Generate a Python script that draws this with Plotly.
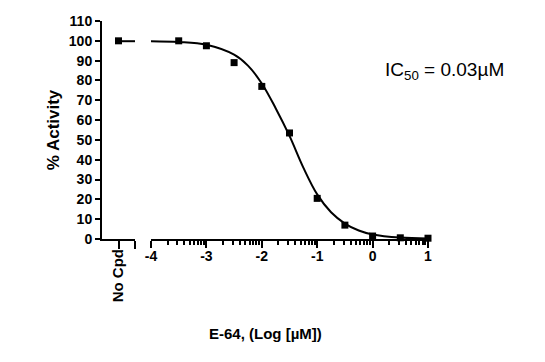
import plotly.graph_objects as go

# ---- data ----
nocpd_label = ["No Cpd"]
nocpd_value = [100.0]

log_conc = [-3.5, -3.0, -2.5, -2.0, -1.5, -1.0, -0.5, 0.0, 0.5, 1.0]
activity = [100.0, 97.5, 89.0, 77.0, 53.5, 20.5, 7.0, 1.5, 0.6, 0.4]

fit_x = [-4.0, -3.5, -3.0, -2.5, -2.25, -2.0, -1.75, -1.5, -1.25, -1.0,
         -0.75, -0.5, -0.25, 0.0, 0.5, 1.0]
fit_y = [99.8, 99.4, 98.0, 93.0, 87.5, 78.5, 66.0, 52.0, 36.0, 22.5,
         13.5, 7.8, 4.3, 2.3, 0.7, 0.2]

major_ticks = [-4, -3, -2, -1, 0, 1]
major_labels = ["-4", "-3", "-2", "-1", "0", "1"]
minor_offsets = [0.301, 0.477, 0.602, 0.699, 0.778, 0.845, 0.903, 0.954]
y_ticks = list(range(0, 111, 10))

ic50_text = "IC<sub>50</sub> = 0.03µM"
x_title = "E-64, (Log [µM])"
y_title = "% Activity"

FONT = "Liberation Sans, Arial, sans-serif"
BLACK = "#000000"

minor_vals = [m + o for m in major_ticks[:-1] for o in minor_offsets]

fig = go.Figure()

# No Cpd segment
fig.add_trace(go.Scatter(x=[1, 2], y=[fit_y[0], fit_y[0]], mode="lines",
                         line=dict(color=BLACK, width=2), xaxis="x", yaxis="y",
                         showlegend=False, hoverinfo="skip", cliponaxis=False))
fig.add_trace(go.Scatter(x=[1], y=nocpd_value, mode="markers",
                         marker=dict(symbol="square", size=7, color=BLACK),
                         xaxis="x", yaxis="y", showlegend=False, cliponaxis=False))

# dose-response segment
fig.add_trace(go.Scatter(x=fit_x, y=fit_y, mode="lines", line_shape="spline",
                         line=dict(color=BLACK, width=2), xaxis="x2", yaxis="y",
                         showlegend=False, cliponaxis=False))
fig.add_trace(go.Scatter(x=log_conc, y=activity, mode="markers",
                         marker=dict(symbol="square", size=7, color=BLACK),
                         xaxis="x2", yaxis="y", showlegend=False, cliponaxis=False))

# page body has an 8px margin, so the figure is offset by 8px
OFF = 8
W, H = 545 - OFF, 362 - OFF
L, T = 102 - OFF, 21 - OFF
R = W - (428 - OFF)
B = H - (239 - OFF)
pw = W - L - R
ph = H - T - B
d1 = (135 - 102) / pw
d2 = (151 - 102) / pw

tickfont = dict(family=FONT, size=14, color=BLACK, weight="bold")

fig.update_layout(
    width=W, height=H,
    margin=dict(l=L, r=R, t=T, b=B, pad=0, autoexpand=False),
    paper_bgcolor="white", plot_bgcolor="white",
    font=dict(family=FONT, color=BLACK),
    xaxis=dict(domain=[0, d1], range=[0, 2], anchor="y", automargin=False,
               tickvals=[1, 2], ticktext=[nocpd_label[0], ""], tickangle=-90,
               ticks="outside", ticklen=8, tickwidth=2, tickcolor=BLACK,
               ticklabelstandoff=-6,
               showline=True, linewidth=2, linecolor=BLACK,
               showgrid=False, zeroline=False,
               tickfont=dict(family=FONT, size=15, color=BLACK, weight="bold")),
    xaxis2=dict(domain=[d2, 1], range=[-4, 1], anchor="y", automargin=False,
                tickvals=major_ticks, ticktext=major_labels,
                ticks="outside", ticklen=7, tickwidth=2,
                ticklabelstandoff=-4,
                tickcolor=BLACK, showline=True, linewidth=2, linecolor=BLACK,
                showgrid=False, zeroline=False, tickfont=tickfont,
                minor=dict(tickvals=minor_vals, ticks="outside", ticklen=4,
                           tickwidth=1.5, tickcolor=BLACK, showgrid=False)),
    xaxis3=dict(overlaying="x2", range=[-4, 1], anchor="y", automargin=False,
                tickvals=[-4, 1], ticks="inside", ticklen=4, tickwidth=2,
                tickcolor=BLACK, showticklabels=False, showline=False,
                showgrid=False, zeroline=False),
    xaxis4=dict(overlaying="x", range=[0, 2], anchor="y", automargin=False,
                tickvals=[2], ticks="inside", ticklen=4, tickwidth=2,
                tickcolor=BLACK, showticklabels=False, showline=False,
                showgrid=False, zeroline=False),
    yaxis=dict(domain=[0, 1], range=[0, 110], anchor="x", automargin=False,
               tickvals=y_ticks, ticks="outside", ticklen=5, tickwidth=2,
               tickcolor=BLACK, showline=True, linewidth=2, linecolor=BLACK,
               showgrid=False, zeroline=False, tickfont=tickfont,
               title=dict(text=y_title, standoff=5,
                          font=dict(family=FONT, size=17, color=BLACK, weight="bold"))),
    annotations=[
        dict(text=ic50_text, xref="paper", yref="paper",
             x=(383 - 102) / pw, y=(239 - 71) / ph,
             xanchor="left", yanchor="middle", showarrow=False,
             font=dict(family=FONT, size=19, color=BLACK)),
        dict(text=x_title, xref="paper", yref="paper",
             x=(265 - 102) / pw, y=-(333 - 239) / ph,
             xanchor="center", yanchor="middle", showarrow=False,
             font=dict(family=FONT, size=15, color=BLACK, weight="bold")),
    ],
)

# dummy traces so overlay axes are rendered
fig.add_trace(go.Scatter(x=[None], y=[None], xaxis="x3", yaxis="y",
                         showlegend=False, hoverinfo="skip"))
fig.add_trace(go.Scatter(x=[None], y=[None], xaxis="x4", yaxis="y",
                         showlegend=False, hoverinfo="skip"))

fig.write_html("out.html")
